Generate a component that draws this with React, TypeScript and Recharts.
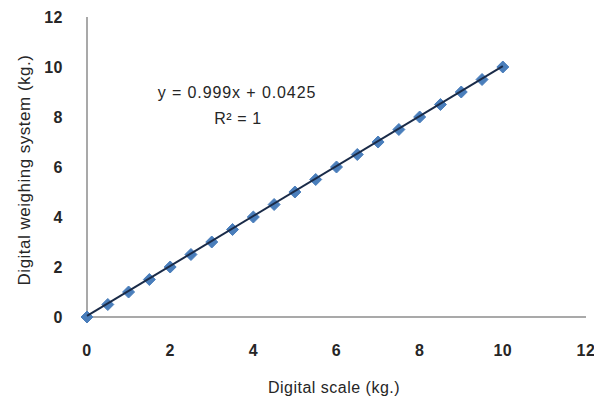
import React from 'react';
import { ScatterChart, Scatter, XAxis, YAxis, Customized } from 'recharts';

const digitalScale = [0, 0.5, 1, 1.5, 2, 2.5, 3, 3.5, 4, 4.5, 5, 5.5, 6, 6.5, 7, 7.5, 8, 8.5, 9, 9.5, 10];
const weighingSystem = [0, 0.5, 1, 1.5, 2, 2.5, 3, 3.5, 4, 4.5, 5, 5.5, 6, 6.5, 7, 7.5, 8, 8.5, 9, 9.5, 10];
const trendX = [0, 10];
const trendY = [0.0425, 10.0325];
const axisTicks = [0, 2, 4, 6, 8, 10, 12];
const equationText = 'y = 0.999x + 0.0425';
const r2Text = 'R\u00b2 = 1';

const points = digitalScale.map((x, i) => ({ x, y: weighingSystem[i] }));
const trend = trendX.map((x, i) => ({ x, y: trendY[i] }));

const FONT = '"Liberation Sans", Arial, sans-serif';
const TEXT = '#262626';

const Diamond = (props: any) => {
  const { cx, cy } = props;
  if (cx == null || cy == null) return null;
  const r = 6;
  return (
    <path
      d={`M${cx},${cy - r} L${cx + r},${cy} L${cx},${cy + r} L${cx - r},${cy} Z`}
      fill="#4a7ebb"
      stroke="#4a7ebb"
      strokeWidth={1}
    />
  );
};

const Nothing = () => <g />;

const Annotations = () => (
  <g fontFamily={FONT} fontSize={16} fill={TEXT}>
    <text x={237} y={98} textAnchor="middle" letterSpacing={0.9}>{equationText}</text>
    <text x={238} y={124} textAnchor="middle" letterSpacing={0.6}>{r2Text}</text>
    <text x={0} y={0} textAnchor="middle" fontSize={17} letterSpacing={0.5} transform="translate(30,170) rotate(-90)">
      Digital weighing system (kg.)
    </text>
    <text x={334} y={393} textAnchor="middle" letterSpacing={0.5}>Digital scale (kg.)</text>
  </g>
);

const tickStyle = { fontFamily: FONT, fontSize: 16, fill: TEXT, fontWeight: 'bold' as const, letterSpacing: 0.5 };

export default function App() {
  return (
    <div style={{ position: 'absolute', left: 0, top: 0, width: 594, height: 401, background: '#fff' }}>
      <ScatterChart width={594} height={401} margin={{ top: 17, right: 8, left: 0, bottom: 0 }}>
        <XAxis
          type="number"
          dataKey="x"
          domain={[0, 12]}
          ticks={axisTicks}
          height={84}
          tickLine={false}
          tickMargin={22}
          axisLine={{ stroke: '#8c8c8c', strokeWidth: 1.5 }}
          tick={tickStyle}
          interval={0}
        />
        <YAxis
          type="number"
          dataKey="y"
          domain={[0, 12]}
          ticks={axisTicks}
          width={87}
          tickLine={false}
          tickMargin={18}
          axisLine={{ stroke: '#8c8c8c', strokeWidth: 1.5 }}
          tick={tickStyle}
          interval={0}
        />
        <Scatter data={points} shape={<Diamond />} isAnimationActive={false} />
        <Scatter
          data={trend}
          line={{ stroke: '#1a2b48', strokeWidth: 2 }}
          shape={<Nothing />}
          isAnimationActive={false}
        />
        <Customized component={Annotations} />
      </ScatterChart>
    </div>
  );
}
